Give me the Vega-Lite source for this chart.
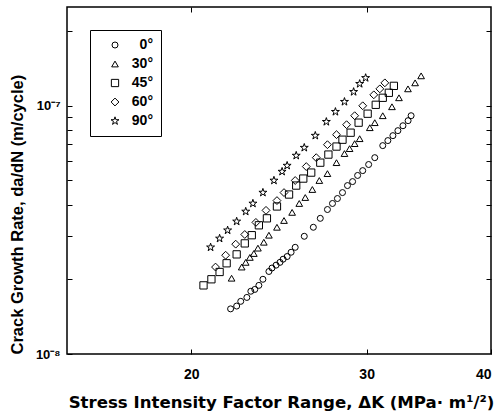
{
  "$schema": "https://vega.github.io/schema/vega-lite/v6.json",
  "width": 424,
  "height": 347,
  "autosize": "none",
  "padding": {"left": 67, "top": 7, "right": 10, "bottom": 58},
  "background": "white",
  "config": {"view": {"stroke": "black", "strokeWidth": 1.5}, "font": "Liberation Sans"},
  "data": {"values": [
    {"a": "0°", "k": 21.90, "r": 1.52e-8},
    {"a": "0°", "k": 22.21, "r": 1.56e-8},
    {"a": "0°", "k": 22.42, "r": 1.63e-8},
    {"a": "0°", "k": 22.74, "r": 1.69e-8},
    {"a": "0°", "k": 22.95, "r": 1.79e-8},
    {"a": "0°", "k": 23.16, "r": 1.82e-8},
    {"a": "0°", "k": 23.38, "r": 1.89e-8},
    {"a": "0°", "k": 23.60, "r": 2.00e-8},
    {"a": "0°", "k": 23.93, "r": 2.15e-8},
    {"a": "0°", "k": 24.10, "r": 2.22e-8},
    {"a": "0°", "k": 24.33, "r": 2.28e-8},
    {"a": "0°", "k": 24.55, "r": 2.34e-8},
    {"a": "0°", "k": 24.73, "r": 2.41e-8},
    {"a": "0°", "k": 24.96, "r": 2.47e-8},
    {"a": "0°", "k": 25.19, "r": 2.57e-8},
    {"a": "0°", "k": 25.43, "r": 2.69e-8},
    {"a": "0°", "k": 25.97, "r": 2.98e-8},
    {"a": "0°", "k": 26.52, "r": 3.24e-8},
    {"a": "0°", "k": 26.95, "r": 3.52e-8},
    {"a": "0°", "k": 27.40, "r": 3.82e-8},
    {"a": "0°", "k": 27.72, "r": 4.04e-8},
    {"a": "0°", "k": 28.04, "r": 4.23e-8},
    {"a": "0°", "k": 28.37, "r": 4.47e-8},
    {"a": "0°", "k": 28.70, "r": 4.77e-8},
    {"a": "0°", "k": 29.04, "r": 4.95e-8},
    {"a": "0°", "k": 29.38, "r": 5.24e-8},
    {"a": "0°", "k": 29.73, "r": 5.48e-8},
    {"a": "0°", "k": 30.14, "r": 5.80e-8},
    {"a": "0°", "k": 30.57, "r": 6.18e-8},
    {"a": "0°", "k": 31.14, "r": 6.91e-8},
    {"a": "0°", "k": 31.51, "r": 7.24e-8},
    {"a": "0°", "k": 31.88, "r": 7.58e-8},
    {"a": "0°", "k": 32.25, "r": 7.94e-8},
    {"a": "0°", "k": 32.63, "r": 8.31e-8},
    {"a": "0°", "k": 33.02, "r": 8.71e-8},
    {"a": "0°", "k": 33.25, "r": 9.12e-8},
    {"a": "30°", "k": 21.95, "r": 2.02e-8},
    {"a": "30°", "k": 22.47, "r": 2.24e-8},
    {"a": "30°", "k": 22.68, "r": 2.34e-8},
    {"a": "30°", "k": 22.90, "r": 2.45e-8},
    {"a": "30°", "k": 23.11, "r": 2.54e-8},
    {"a": "30°", "k": 23.33, "r": 2.67e-8},
    {"a": "30°", "k": 23.65, "r": 2.82e-8},
    {"a": "30°", "k": 23.93, "r": 3.01e-8},
    {"a": "30°", "k": 24.38, "r": 3.24e-8},
    {"a": "30°", "k": 24.78, "r": 3.45e-8},
    {"a": "30°", "k": 25.25, "r": 3.72e-8},
    {"a": "30°", "k": 25.67, "r": 4.04e-8},
    {"a": "30°", "k": 26.03, "r": 4.27e-8},
    {"a": "30°", "k": 26.46, "r": 4.60e-8},
    {"a": "30°", "k": 26.89, "r": 5.00e-8},
    {"a": "30°", "k": 27.40, "r": 5.33e-8},
    {"a": "30°", "k": 27.98, "r": 5.90e-8},
    {"a": "30°", "k": 28.50, "r": 6.42e-8},
    {"a": "30°", "k": 28.84, "r": 6.72e-8},
    {"a": "30°", "k": 29.18, "r": 7.04e-8},
    {"a": "30°", "k": 29.52, "r": 7.37e-8},
    {"a": "30°", "k": 30.22, "r": 8.16e-8},
    {"a": "30°", "k": 30.57, "r": 8.55e-8},
    {"a": "30°", "k": 31.14, "r": 9.12e-8},
    {"a": "30°", "k": 31.81, "r": 9.91e-8},
    {"a": "30°", "k": 32.33, "r": 1.077e-7},
    {"a": "30°", "k": 33.01, "r": 1.170e-7},
    {"a": "30°", "k": 33.56, "r": 1.237e-7},
    {"a": "30°", "k": 34.03, "r": 1.320e-7},
    {"a": "45°", "k": 20.57, "r": 1.89e-8},
    {"a": "45°", "k": 20.95, "r": 2.00e-8},
    {"a": "45°", "k": 21.35, "r": 2.14e-8},
    {"a": "45°", "k": 21.70, "r": 2.32e-8},
    {"a": "45°", "k": 22.21, "r": 2.52e-8},
    {"a": "45°", "k": 22.63, "r": 2.79e-8},
    {"a": "45°", "k": 23.00, "r": 3.01e-8},
    {"a": "45°", "k": 23.38, "r": 3.30e-8},
    {"a": "45°", "k": 23.82, "r": 3.52e-8},
    {"a": "45°", "k": 24.38, "r": 3.93e-8},
    {"a": "45°", "k": 25.07, "r": 4.39e-8},
    {"a": "45°", "k": 25.49, "r": 4.77e-8},
    {"a": "45°", "k": 25.91, "r": 5.09e-8},
    {"a": "45°", "k": 26.39, "r": 5.38e-8},
    {"a": "45°", "k": 26.95, "r": 5.90e-8},
    {"a": "45°", "k": 27.46, "r": 6.36e-8},
    {"a": "45°", "k": 27.98, "r": 6.85e-8},
    {"a": "45°", "k": 28.37, "r": 7.30e-8},
    {"a": "45°", "k": 28.91, "r": 7.79e-8},
    {"a": "45°", "k": 29.45, "r": 8.55e-8},
    {"a": "45°", "k": 30.07, "r": 9.29e-8},
    {"a": "45°", "k": 30.64, "r": 1.009e-7},
    {"a": "45°", "k": 31.14, "r": 1.077e-7},
    {"a": "45°", "k": 31.58, "r": 1.128e-7},
    {"a": "45°", "k": 31.95, "r": 1.203e-7},
    {"a": "60°", "k": 21.15, "r": 2.24e-8},
    {"a": "60°", "k": 21.65, "r": 2.50e-8},
    {"a": "60°", "k": 22.16, "r": 2.77e-8},
    {"a": "60°", "k": 22.63, "r": 3.03e-8},
    {"a": "60°", "k": 23.22, "r": 3.39e-8},
    {"a": "60°", "k": 23.77, "r": 3.79e-8},
    {"a": "60°", "k": 24.38, "r": 4.15e-8},
    {"a": "60°", "k": 24.78, "r": 4.47e-8},
    {"a": "60°", "k": 25.43, "r": 5.00e-8},
    {"a": "60°", "k": 26.09, "r": 5.69e-8},
    {"a": "60°", "k": 26.70, "r": 6.18e-8},
    {"a": "60°", "k": 27.40, "r": 6.97e-8},
    {"a": "60°", "k": 27.98, "r": 7.65e-8},
    {"a": "60°", "k": 28.64, "r": 8.39e-8},
    {"a": "60°", "k": 29.18, "r": 9.12e-8},
    {"a": "60°", "k": 29.73, "r": 1.000e-7},
    {"a": "60°", "k": 30.50, "r": 1.107e-7},
    {"a": "60°", "k": 30.93, "r": 1.170e-7},
    {"a": "60°", "k": 31.29, "r": 1.237e-7},
    {"a": "90°", "k": 20.91, "r": 2.69e-8},
    {"a": "90°", "k": 21.35, "r": 2.92e-8},
    {"a": "90°", "k": 21.75, "r": 3.15e-8},
    {"a": "90°", "k": 22.21, "r": 3.42e-8},
    {"a": "90°", "k": 22.68, "r": 3.75e-8},
    {"a": "90°", "k": 23.06, "r": 4.04e-8},
    {"a": "90°", "k": 23.60, "r": 4.47e-8},
    {"a": "90°", "k": 24.21, "r": 5.00e-8},
    {"a": "90°", "k": 24.67, "r": 5.43e-8},
    {"a": "90°", "k": 24.96, "r": 5.74e-8},
    {"a": "90°", "k": 25.49, "r": 6.30e-8},
    {"a": "90°", "k": 25.97, "r": 6.78e-8},
    {"a": "90°", "k": 26.64, "r": 7.58e-8},
    {"a": "90°", "k": 27.33, "r": 8.62e-8},
    {"a": "90°", "k": 27.91, "r": 9.46e-8},
    {"a": "90°", "k": 28.50, "r": 1.038e-7},
    {"a": "90°", "k": 29.11, "r": 1.138e-7},
    {"a": "90°", "k": 29.52, "r": 1.226e-7},
    {"a": "90°", "k": 29.93, "r": 1.295e-7}
  ]},
  "layer": [
    {
      "mark": {"type": "point", "filled": false, "stroke": "black", "strokeWidth": 1, "opacity": 1},
      "encoding": {
        "x": {
          "field": "k", "type": "quantitative",
          "scale": {"type": "log", "domain": [15, 40], "nice": false},
          "axis": {
            "values": [20, 30, 40], "format": "d",
            "domain": false, "grid": false,
            "tickSize": -5, "tickColor": "black", "tickWidth": 1,
            "labelPadding": 18, "labelFont": "Liberation Sans", "labelFontWeight": "bold", "labelFontSize": 14, "labelColor": "black",
            "title": "Stress Intensity Factor Range, ΔK (MPa·  m¹/²)",
            "titleFont": "DejaVu Sans", "titleFontWeight": "bold", "titleFontSize": 16.6, "titleColor": "black",
            "titleX": 214, "titleY": 48, "titleBaseline": "middle"
          }
        },
        "y": {
          "field": "r", "type": "quantitative",
          "scale": {"type": "log", "domain": [1e-8, 2.5e-7], "nice": false},
          "axis": {
            "values": [1e-8, 2e-8, 3e-8, 4e-8, 5e-8, 6e-8, 7e-8, 8e-8, 9e-8, 1e-7, 2e-7],
            "labelExpr": "datum.value == 1e-7 ? '10⁻⁷' : (datum.value == 1e-8 ? '10⁻⁸' : '')",
            "domain": false, "grid": false,
            "tickSize": -5, "tickColor": "black", "tickWidth": 1,
            "labelPadding": 12, "labelFont": "Liberation Sans", "labelFontWeight": "bold", "labelFontSize": 13, "labelColor": "black",
            "title": "Crack Growth Rate, da/dN (m/cycle)",
            "titleFont": "Liberation Sans", "titleFontWeight": "bold", "titleFontSize": 16.5, "titleColor": "black",
            "titleX": -50, "titleAnchor": "start", "titleBaseline": "middle", "titleAngle": -90
          }
        },
        "shape": {
          "field": "a", "type": "nominal",
          "scale": {"domain": ["0°", "30°", "45°", "60°", "90°"], "range": ["circle", "triangle-up", "square", "diamond", "M0,-1L0.2245,-0.309L0.951,-0.309L0.3633,0.118L0.5878,0.809L0,0.382L-0.5878,0.809L-0.3633,0.118L-0.951,-0.309L-0.2245,-0.309Z"]},
          "legend": {
            "orient": "none", "legendX": 23, "legendY": 23, "title": null,
            "strokeColor": "black", "fillColor": "white", "padding": 8,
            "labelFont": "Liberation Sans", "labelFontWeight": "bold", "labelFontSize": 14, "labelColor": "black",
            "labelExpr": "datum.label + '\u00a0\u00a0'",
            "labelAlign": "right", "labelOffset": 31, "rowPadding": 5, "symbolOffset": 10,
            "symbolStrokeColor": "black", "symbolStrokeWidth": 1
          }
        },
        "size": {
          "field": "a", "type": "nominal",
          "scale": {"domain": ["0°", "30°", "45°", "60°", "90°"], "range": [36, 70, 42, 80, 75]},
          "legend": {
            "orient": "none", "legendX": 23, "legendY": 23, "title": null,
            "strokeColor": "black", "fillColor": "white", "padding": 8,
            "labelFont": "Liberation Sans", "labelFontWeight": "bold", "labelFontSize": 14, "labelColor": "black",
            "labelExpr": "datum.label + '\u00a0\u00a0'",
            "labelAlign": "right", "labelOffset": 31, "rowPadding": 5, "symbolOffset": 10,
            "symbolStrokeColor": "black", "symbolStrokeWidth": 1
          }
        }
      }
    },
    {
      "mark": {"type": "point", "opacity": 0},
      "encoding": {
        "x": {
          "field": "k", "type": "quantitative",
          "scale": {"type": "log", "domain": [15, 40], "nice": false},
          "axis": {"orient": "top", "values": [20, 30], "labels": false, "title": null, "domain": false, "grid": false, "tickSize": -5, "tickColor": "black", "tickWidth": 1}
        },
        "y": {
          "field": "r", "type": "quantitative",
          "scale": {"type": "log", "domain": [1e-8, 2.5e-7], "nice": false},
          "axis": {"orient": "right", "values": [2e-8, 3e-8, 4e-8, 5e-8, 6e-8, 7e-8, 8e-8, 9e-8, 1e-7, 2e-7], "labels": false, "title": null, "domain": false, "grid": false, "tickSize": -5, "tickColor": "black", "tickWidth": 1}
        }
      }
    }
  ],
  "resolve": {"axis": {"x": "independent", "y": "independent"}}
}
